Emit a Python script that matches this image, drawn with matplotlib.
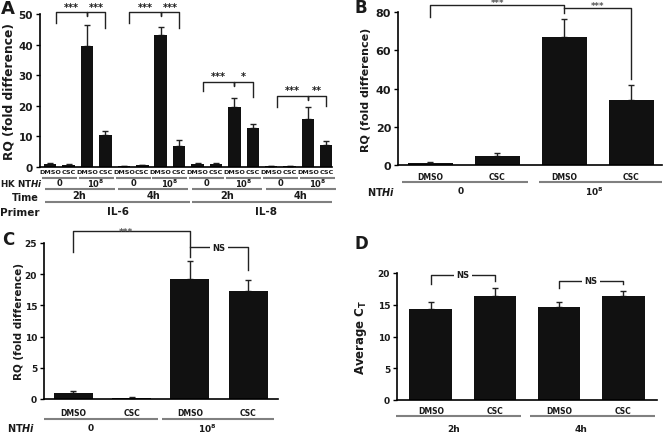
import numpy as np
import matplotlib.pyplot as plt

plt.rcParams['font.family'] = 'DejaVu Sans'
plt.rcParams['font.weight'] = 'bold'
plt.rcParams['axes.labelweight'] = 'bold'
plt.rcParams['mathtext.fontset'] = 'custom'
plt.rcParams['mathtext.rm'] = 'DejaVu Sans:bold'
plt.rcParams['mathtext.it'] = 'DejaVu Sans:italic:bold'
plt.rcParams['mathtext.bf'] = 'DejaVu Sans:bold'

W, H = 664, 435
BAR = '#111111'
TXT = '#1a1a1a'
GREY = '#808080'

# ---- panel A : IL-6 / IL-8, HK NTHi, 2h / 4h
a_treat = ['DMSO', 'CSC'] * 8
a_dose = ['0', '10$^8$'] * 4
a_time = ['2h', '4h', '2h', '4h']
a_primer = ['IL-6', 'IL-8']
a_vals = [1.0, 0.8, 39.6, 10.5, 0.2, 0.6, 43.1, 6.9, 1.0, 1.1, 19.7, 12.7, 0.2, 0.2, 15.6, 7.2]
a_err = [0.2, 0.2, 6.8, 1.4, 0.1, 0.2, 2.8, 1.8, 0.2, 0.2, 3.0, 1.5, 0.05, 0.1, 3.9, 1.3]
a_stars = [('***', '***'), ('***', '***'), ('***', '*'), ('***', '**')]
# bracket heights: top, left leg end, right leg end
a_brackets = [(50.5, 47.0, 45.5), (50.5, 47.0, 45.5), (27.8, 24.8, 22.8), (23.2, 19.6, 20.0)]

# ---- panel B : NTHi
b_treat = ['DMSO', 'CSC', 'DMSO', 'CSC']
b_dose = ['0', '10$^8$']
b_vals = [0.9, 4.9, 67.0, 33.8]
b_err = [0.5, 1.2, 9.5, 8.2]

# ---- panel C : NTHi
c_treat = ['DMSO', 'CSC', 'DMSO', 'CSC']
c_dose = ['0', '10$^8$']
c_vals = [0.95, 0.15, 19.2, 17.3]
c_err = [0.4, 0.1, 2.9, 1.8]

# ---- panel D : average CT
d_treat = ['DMSO', 'CSC', 'DMSO', 'CSC']
d_time = ['2h', '4h']
d_vals = [14.4, 16.4, 14.7, 16.3]
d_err = [1.1, 1.2, 0.8, 0.9]

fig = plt.figure(figsize=(W / 100, H / 100), dpi=100)


def add_ax(l, t, r, b):
    return fig.add_axes([l / W, 1 - b / H, (r - l) / W, (b - t) / H])


def style(ax, ticks, size):
    for s in ['top', 'right']:
        ax.spines[s].set_visible(False)
    ax.spines['left'].set_linewidth(1.2)
    ax.spines['bottom'].set_linewidth(1.2)
    ax.set_yticks(ticks)
    ax.tick_params(axis='y', direction='out', length=3, width=1, labelsize=size, pad=2, labelcolor=TXT)
    ax.tick_params(axis='x', bottom=False, labelbottom=False)
    for lab in ax.get_yticklabels():
        lab.set_fontweight('bold')


def bars(ax, vals, err, width):
    x = np.arange(len(vals))
    ax.bar(x, vals, width=width, color=BAR, zorder=2)
    ax.errorbar(x, vals, yerr=[np.zeros(len(err)), err], fmt='none', ecolor='#222222',
                elinewidth=1, capsize=2, capthick=1, zorder=1)
    return x


def below(ax, x, px, s, size, **kw):
    ax.annotate(s, (x, 0), xycoords=('data', 'axes fraction'), xytext=(0, -px * 0.72),
                textcoords='offset points', ha='center', va='center', fontsize=size,
                fontweight='bold', color=TXT, annotation_clip=False, **kw)


def under(ax, x0, x1, px):
    h = ax.get_position().height * H
    ax.plot([x0, x1], [-px / h, -px / h], transform=ax.get_xaxis_transform(),
            color=GREY, lw=1.5, clip_on=False, solid_capstyle='butt')


def bracket(ax, xs, ys, lw=1.0):
    ax.plot(xs, ys, color='#222222', lw=lw, clip_on=False, zorder=3)


def ylab(ax, s, size, xpx):
    # xpx is the label's right edge in pixels
    ax.set_ylabel(s, fontsize=size, color=TXT, fontweight='bold')
    pos = ax.get_position()
    ax.yaxis.set_label_coords((xpx / W - pos.x0) / pos.width, 0.5)


# ================= A
axA = add_ax(40, 15, 332, 168)
xA = bars(axA, a_vals, a_err, 0.68)
axA.set_xlim(-0.55, 15.3)
axA.set_ylim(0, 50)
style(axA, [0, 10, 20, 30, 40, 50], 7.5)
ylab(axA, 'RQ (fold difference)', 8.8, 16)
for g in range(4):
    top, yl, yr = a_brackets[g]
    x0, xm, x1 = 4 * g + 0.3, 4 * g + 2, 4 * g + 3
    bracket(axA, [x0, x0, xm, xm, xm, x1, x1], [yl, top, top, top - 1.2, top, top, yr])
    axA.text((x0 + xm) / 2, top + 0.3, a_stars[g][0], ha='center', va='bottom', fontsize=7, color=TXT)
    axA.text((xm + x1) / 2, top + 0.3, a_stars[g][1], ha='center', va='bottom', fontsize=7, color=TXT)
for i, t in enumerate(a_treat):
    below(axA, xA[i], 5, t, 4.6)
for p, d in enumerate(a_dose):
    under(axA, 2 * p - 0.45, 2 * p + 1.45, 11)
    below(axA, 2 * p + 0.5, 16, d, 6)
for t, s in enumerate(a_time):
    under(axA, 4 * t - 0.3, 4 * t + 3.5, 22)
    below(axA, 4 * t + 1.6, 28, s, 7)
for k, s in enumerate(a_primer):
    under(axA, 8 * k - 0.3, min(8 * k + 7.6, 15.3), 35)
    below(axA, 8 * k + 3.7, 44, s, 7.5)
fig.text(0 / W, 1 - 184 / H, 'HK NT$\\mathit{Hi}$', fontsize=6.3, va='center', ha='left', color=TXT)
fig.text(39 / W, 1 - 198 / H, 'Time', fontsize=7, va='center', ha='right', color=TXT)
fig.text(0 / W, 1 - 213 / H, 'Primer', fontsize=7.5, va='center', ha='left', color=TXT)

# ================= B
axB = add_ax(398, 13, 662, 166)
xB = bars(axB, b_vals, b_err, 0.67)
axB.set_xlim(-0.48, 3.46)
axB.set_ylim(0, 80)
style(axB, [0, 20, 40, 60, 80], 8)
ylab(axB, 'RQ (fold difference)', 8, 371)
bracket(axB, [0, 0, 2, 2], [77.6, 83.6, 83.6, 79.6])
bracket(axB, [2, 3, 3], [82.3, 82.3, 45.2])
axB.text(1, 82.4, '***', ha='center', va='bottom', fontsize=6, color='#555555', clip_on=False)
axB.text(2.5, 81.2, '***', ha='center', va='bottom', fontsize=6, color='#555555', clip_on=False)
for i, t in enumerate(b_treat):
    below(axB, xB[i], 11, t, 5.5)
for p, d in enumerate(b_dose):
    under(axB, 2 * p - 0.42 + 0.05 * p, 2 * p + 1.46, 17)
    below(axB, 2 * p + 0.45, 26, d, 6.5)
fig.text(395 / W, 1 - 192 / H, 'NT$\\mathit{Hi}$', fontsize=7, va='center', ha='right', color=TXT)

# ================= C
axC = add_ax(44, 244, 278, 400)
xC = bars(axC, c_vals, c_err, 0.67)
axC.set_xlim(-0.5, 3.51)
axC.set_ylim(0, 25)
style(axC, [0, 5, 10, 15, 20, 25], 6.5)
ylab(axC, 'RQ (fold difference)', 7.5, 24)
bracket(axC, [0, 0, 2, 2], [23.5, 26.9, 26.9, 22.7])
bracket(axC, [2, 3, 3], [24.3, 24.3, 20.6])
axC.text(0.9, 26.9, '***', ha='center', va='center', fontsize=6.5, color='#555555', clip_on=False)
axC.text(2.5, 24.3, 'NS', ha='center', va='center', fontsize=6, color=TXT, zorder=4,
         bbox=dict(facecolor='white', edgecolor='none', pad=1.5))
for i, t in enumerate(c_treat):
    below(axC, xC[i], 14, t, 5.5)
for p, d in enumerate(c_dose):
    under(axC, 2 * p - 0.5 + 0.03 * p, 2 * p + 1.45, 20)
    below(axC, 2 * p + 0.3, 29, d, 6.5)
fig.text(7 / W, 1 - 428 / H, 'NT$\\mathit{Hi}$', fontsize=7, va='center', ha='left', color=TXT)

# ================= D
axD = add_ax(397, 274, 657, 401)
xD = bars(axD, d_vals, d_err, 0.67)
axD.set_xlim(-0.53, 3.53)
axD.set_ylim(0, 20)
style(axD, [0, 5, 10, 15, 20], 6.5)
ylab(axD, 'Average C$_\\mathrm{T}$', 8.5, 369)
bracket(axD, [0, 0, 1, 1], [18.3, 19.7, 19.7, 18.8])
bracket(axD, [2, 2, 3, 3], [17.6, 18.8, 18.8, 18.3])
axD.text(0.5, 19.7, 'NS', ha='center', va='center', fontsize=6, color=TXT, zorder=4,
         bbox=dict(facecolor='white', edgecolor='none', pad=1.5))
axD.text(2.5, 18.8, 'NS', ha='center', va='center', fontsize=6, color=TXT, zorder=4,
         bbox=dict(facecolor='white', edgecolor='none', pad=1.5))
for i, t in enumerate(d_treat):
    below(axD, xD[i], 11, t, 5.5)
for p, s in enumerate(d_time):
    under(axD, 2 * p - 0.55 + 0.1 * p, 2 * p + 1.4 + 0.1 * p, 16)
    below(axD, 2 * p + 0.35, 29, s, 6.5)

# panel letters
fig.text(1 / W, 1 - 9 / H, 'A', fontsize=13, va='center', ha='left', color=TXT)
fig.text(354 / W, 1 - 8 / H, 'B', fontsize=12, va='center', ha='left', color=TXT)
fig.text(2 / W, 1 - 240 / H, 'C', fontsize=12, va='center', ha='left', color=TXT)
fig.text(355 / W, 1 - 244 / H, 'D', fontsize=12, va='center', ha='left', color=TXT)

fig.savefig('out.png', dpi=100)
